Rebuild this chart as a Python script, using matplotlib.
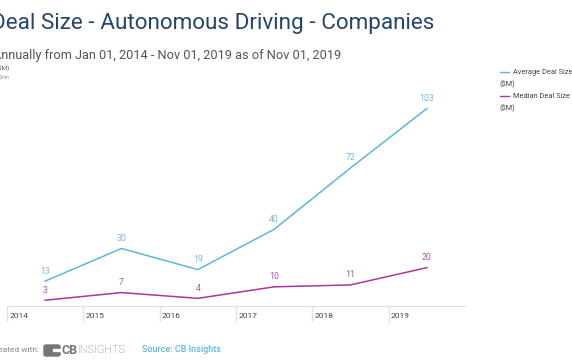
import numpy as np
import matplotlib
matplotlib.use("Agg")
from matplotlib import pyplot as plt
from matplotlib.patches import FancyBboxPatch, Rectangle

years = ["2014", "2015", "2016", "2017", "2018", "2019"]
avg_deal = [13, 30, 19, 40, 72, 103]
median_deal = [3, 7, 4, 10, 11, 20]

AVG_C = "#5ab9d9"
MED_C = "#a8399b"
W, H = 572, 364

plt.rcParams["font.family"] = ["Roboto", "DejaVu Sans"]


def px(x, y):
    return x / W, 1 - y / H


fig = plt.figure(figsize=(W / 100, H / 100), dpi=100)
ax = fig.add_axes([7 / W, 1 - 306 / H, (465 - 7) / W, (306 - 60) / H])

x = np.arange(len(years))
ax.plot(x, avg_deal, color=AVG_C, lw=1.1, solid_joinstyle="miter")
ax.plot(x, median_deal, color=MED_C, lw=1.1, solid_joinstyle="miter")
for xi, v in zip(x, avg_deal):
    ax.annotate(str(v), (xi, v), xytext=(0, 4), textcoords="offset points",
                ha="center", va="bottom", fontsize=6.3, color="#78bcd8")
for xi, v in zip(x, median_deal):
    ax.annotate(str(v), (xi, v), xytext=(0, 4), textcoords="offset points",
                ha="center", va="bottom", fontsize=6.3, color="#b2549f")

ax.set_xlim(-0.5, 5.5)
ax.set_ylim(0, 246 / 1.917)
for s in ["top", "right", "left"]:
    ax.spines[s].set_visible(False)
ax.spines["bottom"].set_color("#e2e2e2")
ax.spines["bottom"].set_linewidth(1)
ax.set_yticks([])
ax.set_xticks(np.arange(-0.5, 5))
ax.set_xticklabels([])
ax.tick_params(axis="x", length=11.5, width=1, color="#e2e2e2", direction="out")
for i, yr in enumerate(years):
    ax.text(i - 0.5 + 0.03, -10 / 246, yr, transform=ax.get_xaxis_transform(),
            ha="left", va="center", fontsize=6, color="#444444")

# titles
fig.text(*px(-9, 23), "Deal Size - Autonomous Driving - Companies", fontsize=16.2,
         color="#25456b", ha="left", va="center")
fig.text(*px(-7, 55), "Annually from Jan 01, 2014 - Nov 01, 2019 as of Nov 01, 2019",
         fontsize=9.2, color="#555555", ha="left", va="center")
fig.text(*px(-3, 68), "($M)", fontsize=4.5, color="#555555", ha="left", va="center")
fig.text(*px(-6, 78), "in $mn", fontsize=3.5, color="#888888", ha="left", va="center")

# legend
for yy, col, name in [(72, AVG_C, "Average Deal Size"), (96, MED_C, "Median Deal Size")]:
    fig.add_artist(plt.Line2D([500 / W, 509 / W], [1 - yy / H] * 2, color=col, lw=1))
    fig.text(*px(513, yy), name, fontsize=5.3, color="#444444", ha="left", va="center")
    fig.text(*px(500, yy + 12), "($M)", fontsize=5.3, color="#444444", ha="left", va="center")

# footer
fig.text(*px(-10, 350), "Created with:", fontsize=6, color="#888888", ha="left", va="center")
fig.add_artist(FancyBboxPatch(px(44, 356), 16 / W, 11 / H, boxstyle="round,pad=0,rounding_size=0.004",
                              transform=fig.transFigure, color="#777777"))
fig.add_artist(Rectangle(px(53, 351), 7 / W, 2 / H, transform=fig.transFigure, color="white"))
fig.text(*px(61, 350), "CB", fontsize=9, fontweight="bold", color="#777777", ha="left", va="center")
fig.text(*px(78, 350), "INSIGHTS", fontsize=7.8, fontweight="light", color="#777777",
         ha="left", va="center")
fig.text(*px(142, 350), "Source: CB Insights", fontsize=6.5, color="#5bb8e0",
         fontweight="medium", ha="left", va="center")

fig.savefig("out.png", dpi=100)
